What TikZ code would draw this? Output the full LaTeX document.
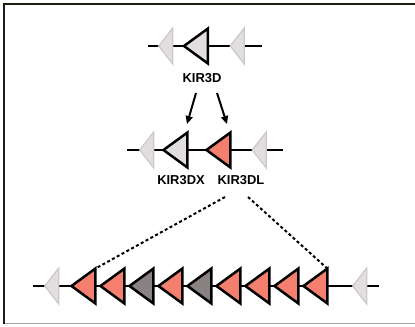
\documentclass[tikz,border=0pt]{standalone}
\usepackage{fontspec}
\setmainfont{Liberation Sans}
\usetikzlibrary{shapes.geometric,arrows.meta}
\definecolor{salmon}{HTML}{F47F6F}
\definecolor{slate}{HTML}{8A8282}
\definecolor{pale}{HTML}{E2DEDE}
\definecolor{ghostedge}{HTML}{CCC8C8}
\definecolor{frameink}{HTML}{1A2114}
\definecolor{frameshade}{HTML}{A6A6A6}
\tikzset{
  gene/.style={isosceles triangle, isosceles triangle stretches, shape border rotate=180,
    minimum height=24, minimum width=35, inner sep=0pt, outer sep=0pt,
    draw=black, line width=2.5, line join=miter},
  ghost/.style={isosceles triangle, isosceles triangle stretches, shape border rotate=180,
    minimum height=14, minimum width=36, inner sep=0pt, outer sep=0pt,
    fill=pale, draw=ghostedge, line width=1.2},
  locus/.style={line width=2.2},
  genelabel/.style={font=\fontsize{13}{13}\selectfont\bfseries, inner sep=0pt},
  arr/.style={line width=2, -{Triangle[length=8,width=7]}},
  zoomlink/.style={line width=2, dash pattern=on 3 off 2.5},
}
\begin{document}
\begin{tikzpicture}[x=1bp,y=-1bp]
  \useasboundingbox (0,0) rectangle (415,327);
  % frame
  \draw[frameshade, line width=1] (3,323.5) -- (415,323.5);
  \draw[frameink, line width=2.6] (4.2,324) -- (4.2,4.2) -- (415,4.2);

  % ancestral locus
  \coordinate (t-l) at (148,46);
  \coordinate (t-r) at (262,46);
  \draw[locus] (t-l) -- (t-r);
  \node[ghost] (t-g1) at (166.5,46) {};
  \node[gene, fill=pale] (t-d) at (199,46) {};
  \node[ghost] (t-g2) at (238,46) {};
  \node[genelabel] (l-d) at (202,78) {KIR3D};

  % duplicated locus
  \coordinate (m-l) at (127,150);
  \coordinate (m-r) at (283,150);
  \draw[locus] (m-l) -- (m-r);
  \node[ghost] (m-g1) at (147.5,150) {};
  \node[gene, fill=pale] (m-x) at (178.5,150) {};
  \node[gene, fill=salmon] (m-l3) at (221.5,150) {};
  \node[ghost] (m-g2) at (260,150) {};
  \node[genelabel] (l-x) at (181,180) {KIR3DX};
  \node[genelabel] (l-l) at (241,180) {KIR3DL};

  % arrows
  \coordinate (a1s) at (196,93);
  \coordinate (a1e) at (187,124);
  \coordinate (a2s) at (217,93);
  \coordinate (a2e) at (227,124);
  \draw[arr] (a1s) -- (a1e);
  \draw[arr] (a2s) -- (a2e);

  % expanded locus
  \coordinate (b-l) at (33,286);
  \coordinate (b-r) at (379,286);
  \draw[locus] (b-l) -- (b-r);
  \node[ghost] (b-g1) at (52.5,286) {};
  \foreach \i/\c in {0/salmon,1/salmon,2/slate,3/salmon,4/slate,5/salmon,6/salmon,7/salmon,8/salmon}
    \node[gene, fill=\c] (b-\i) at (86.5+29*\i,286) {};
  \node[ghost] (b-g2) at (360.5,286) {};

  % expansion guides
  \coordinate (d1) at (225,197);
  \coordinate (d2) at (248,197);
  \draw[zoomlink] (d1) -- (b-0.right corner);
  \draw[zoomlink] (d2) -- (b-8.right corner);
\end{tikzpicture}
\end{document}
